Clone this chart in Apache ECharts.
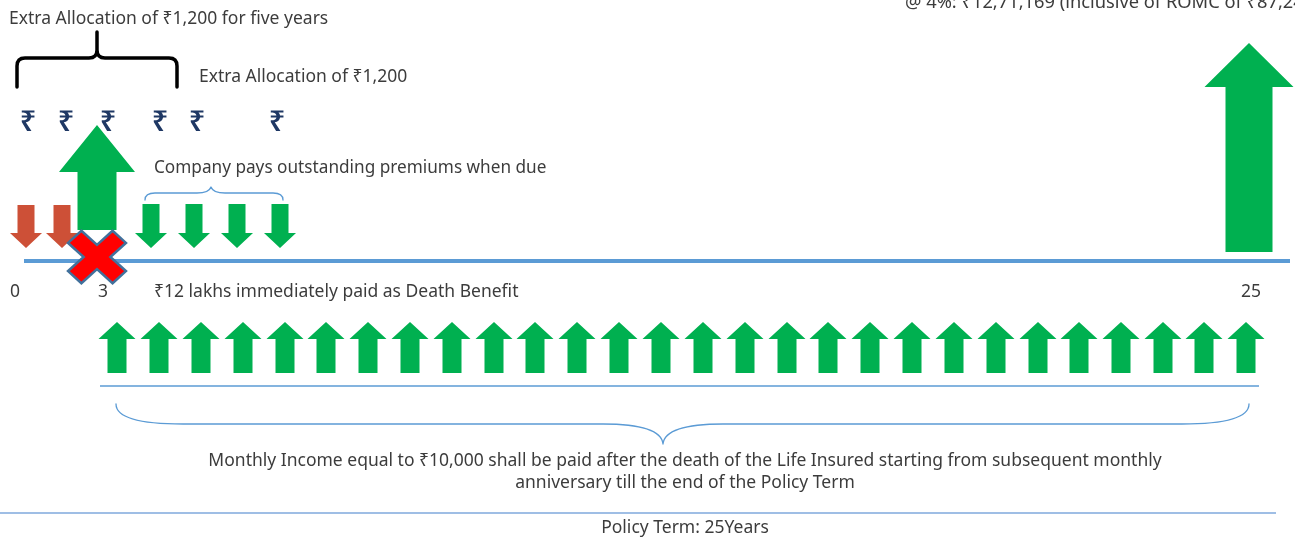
<!DOCTYPE html>
<html><head><meta charset="utf-8">
<script src="https://cdn.jsdelivr.net/npm/echarts@6/dist/echarts.min.js"></script>
<style>html,body{margin:0;padding:0;background:#fff}#c{width:1295px;height:537px}</style>
</head><body><div id="c"></div>
<script>
// ---- data (timeline position units along x, layout rows along y) ----
const premiumPaidX = [26, 62];                       // premiums paid by policyholder
const outstandingPremiumX = [151, 194, 237, 280];    // premiums paid by company
const deathBenefitX = [97];                          // year 3 death benefit
const maturityX = [1249];                            // fund value at maturity
const rupeeX = [28, 66, 108, 160, 197, 277];         // extra allocations
const monthlyIncomeX = [117,159,201,243,285,326,368,410,452,494,535,577,619,661,703,745,787,828,870,912,954,996,1038,1079,1121,1163,1204,1246];
const tickLabels = ['0', '3', '25'];
const tickX = [15, 103, 1251];
const annotationTexts = [
  'Extra Allocation of ₹1,200 for five years',
  'Extra Allocation of ₹1,200',
  '@ 4%: ₹12,71,169 (inclusive of ROMC of ₹87,245)',
  'Company pays outstanding premiums when due',
  '₹12 lakhs immediately paid as Death Benefit',
  'Monthly Income equal to ₹10,000 shall be paid after the death of the Life Insured starting from subsequent monthly',
  'anniversary till the end of the Policy Term',
  'Policy Term: 25Years'
];
const annotationX = [9, 199, 905, 154, 154, 685, 685, 685];
const annotationY = [19.5, 77.5, 3, 168, 292, 461.5, 483, 528];
const annotationAlign = ['left','left','left','left','left','center','center','center'];

// ---- styles ----
const GREEN = '#00b050', RED = '#cd5037', BLUE = '#5b9bd5', TEXT = '#3c3c3c';
const FONT = '17.5px "Noto Sans", "DejaVu Sans", sans-serif';
const FONT_NARROW = '17.2px "Noto Sans", "DejaVu Sans", sans-serif';
const FONT_WIDE = '18.3px "Noto Sans", "DejaVu Sans", sans-serif';

const chart = echarts.init(document.getElementById('c'), null, {renderer: 'canvas'});

function arrowSeries(xs, color, g) {
  return {
    type: 'custom', coordinateSystem: 'cartesian2d', silent: true,
    data: xs.map(x => [x, g.tail]), encode: {x: 0, y: 1},
    renderItem: (params, api) => {
      const x = api.value(0);
      const p = (dx, y) => api.coord([x + dx, y]);
      const pts = [p(-g.sw, g.tail), p(-g.sw, g.base), p(-g.hw, g.base), p(0, g.tip),
                   p(g.hw, g.base), p(g.sw, g.base), p(g.sw, g.tail)];
      return {type: 'polygon', shape: {points: pts}, style: {fill: color}};
    }
  };
}

function braceSeries(b, color, width) {
  return {
    type: 'custom', coordinateSystem: 'cartesian2d', silent: true,
    data: [[b.x1, b.yEnd]], encode: {x: 0, y: 1},
    renderItem: (params, api) => {
      const c = (x, y) => api.coord([x, y]);
      let d;
      const f = (pt) => pt[0].toFixed(1) + ' ' + pt[1].toFixed(1);
      if (b.kind === 'square') {
        const r = b.r, s = Math.sign(b.yEnd - b.yH);
        d = 'M' + f(c(b.x1, b.yEnd)) + ' L' + f(c(b.x1, b.yH + s * r)) +
            ' Q' + f(c(b.x1, b.yH)) + ' ' + f(c(b.x1 + r, b.yH)) +
            ' L' + f(c(b.xm - r, b.yH)) + ' Q' + f(c(b.xm, b.yH)) + ' ' + f(c(b.xm, b.yH - s * r)) +
            ' L' + f(c(b.xm, b.yTip)) +
            ' M' + f(c(b.x2, b.yEnd)) + ' L' + f(c(b.x2, b.yH + s * r)) +
            ' Q' + f(c(b.x2, b.yH)) + ' ' + f(c(b.x2 - r, b.yH)) +
            ' L' + f(c(b.xm + r, b.yH)) + ' Q' + f(c(b.xm, b.yH)) + ' ' + f(c(b.xm, b.yH - s * r));
      } else {
        const r = b.r, rm = b.rm;
        d = 'M' + f(c(b.x1, b.yEnd)) + ' Q' + f(c(b.x1, b.yH)) + ' ' + f(c(b.x1 + r, b.yH)) +
            ' L' + f(c(b.xm - rm, b.yH)) + ' Q' + f(c(b.xm - 2, b.yH)) + ' ' + f(c(b.xm, b.yTip)) +
            ' Q' + f(c(b.xm + 2, b.yH)) + ' ' + f(c(b.xm + rm, b.yH)) +
            ' L' + f(c(b.x2 - r, b.yH)) + ' Q' + f(c(b.x2, b.yH)) + ' ' + f(c(b.x2, b.yEnd));
      }
      return {type: 'path', shape: {pathData: d}, style: {fill: 'none', stroke: color, lineWidth: width, lineCap: 'round', lineJoin: 'round'}};
    }
  };
}

function crossSeries(xs, yc) {
  return {
    type: 'custom', coordinateSystem: 'cartesian2d', silent: true, z: 5,
    data: xs.map(x => [x, yc]), encode: {x: 0, y: 1},
    renderItem: (params, api) => {
      const cx = api.value(0), cy = api.value(1);
      const L = 30, w = 9, k = Math.SQRT1_2;
      const arm = [[w, w], [L, w], [L, -w], [w, -w], [w, -L], [-w, -L], [-w, -w], [-L, -w], [-L, w], [-w, w], [-w, L], [w, L]];
      const pts = arm.map(([a, b]) => api.coord([cx + (a - b) * k * 1.05, cy + (a + b) * k * 0.95]));
      return {type: 'polygon', shape: {points: pts}, style: {fill: '#ff0000', stroke: '#41719c', lineWidth: 2.5, lineJoin: 'miter'}};
    }
  };
}

function lineSeries(x1, x2, y, width, color) {
  return {type: 'line', data: [[x1, y], [x2, y]], symbol: 'none', silent: true,
          lineStyle: {color: color, width: width}, z: 1};
}

const textSeries = {
  type: 'custom', coordinateSystem: 'cartesian2d', silent: true, z: 10,
  data: annotationTexts.map((t, i) => [annotationX[i], annotationY[i], i]), encode: {x: 0, y: 1},
  renderItem: (params, api) => {
    const i = api.value(2);
    const pt = api.coord([api.value(0), api.value(1)]);
    return {type: 'text', x: pt[0], y: pt[1],
            style: {text: annotationTexts[i], fill: TEXT, font: i === 3 ? FONT_NARROW : (i === 2 ? FONT_WIDE : FONT),
                    align: annotationAlign[i], verticalAlign: 'middle'}};
  }
};
const tickSeries = {
  type: 'custom', coordinateSystem: 'cartesian2d', silent: true, z: 10,
  data: tickLabels.map((t, i) => [tickX[i], 292, i]), encode: {x: 0, y: 1},
  renderItem: (params, api) => {
    const pt = api.coord([api.value(0), api.value(1)]);
    return {type: 'text', x: pt[0], y: pt[1],
            style: {text: tickLabels[api.value(2)], fill: TEXT, font: FONT, align: 'center', verticalAlign: 'middle'}};
  }
};
const rupeeSeries = {
  type: 'custom', coordinateSystem: 'cartesian2d', silent: true, z: 10,
  data: rupeeX.map(x => [x, 123]), encode: {x: 0, y: 1},
  renderItem: (params, api) => {
    const pt = api.coord([api.value(0), api.value(1)]);
    return {type: 'text', x: pt[0], y: pt[1],
            style: {text: '₹', fill: '#1f3864', font: '600 29px "Noto Sans", "DejaVu Sans", sans-serif', align: 'center', verticalAlign: 'middle'}};
  }
};

chart.setOption({
  animation: false,
  backgroundColor: '#ffffff',
  grid: {left: 0, right: 0, top: 0, bottom: 0},
  xAxis: {type: 'value', min: 0, max: 1295, show: false},
  yAxis: {type: 'value', min: 0, max: 537, inverse: true, show: false},
  series: [
    lineSeries(24, 1290, 261, 4, BLUE),
    lineSeries(100, 1259, 386, 1.5, BLUE),
    lineSeries(0, 1276, 513, 1.5, '#7fa9dc'),
    arrowSeries(premiumPaidX, RED, {tail: 205, base: 233, tip: 248, sw: 8.5, hw: 16}),
    arrowSeries(outstandingPremiumX, GREEN, {tail: 204, base: 233, tip: 248, sw: 8.5, hw: 16}),
    arrowSeries(deathBenefitX, GREEN, {tail: 230, base: 172, tip: 125, sw: 19.5, hw: 38}),
    arrowSeries(maturityX, GREEN, {tail: 252, base: 87, tip: 43, sw: 23.5, hw: 44.5}),
    arrowSeries(monthlyIncomeX, GREEN, {tail: 373, base: 339, tip: 322, sw: 9.5, hw: 18.5}),
    crossSeries(deathBenefitX, 257),
    braceSeries({kind: 'square', x1: 17, x2: 177, xm: 97, yEnd: 87, yH: 58, yTip: 32, r: 8}, '#000000', 3.5),
    braceSeries({kind: 'curly', x1: 145, x2: 283, xm: 211, yEnd: 200, yH: 193, yTip: 187, r: 10, rm: 14}, BLUE, 1.3),
    braceSeries({kind: 'curly', x1: 116, x2: 1249, xm: 663, yEnd: 404, yH: 424, yTip: 444, r: 67, rm: 60}, BLUE, 1.3),
    rupeeSeries,
    tickSeries,
    textSeries
  ]
});
</script></body></html>
